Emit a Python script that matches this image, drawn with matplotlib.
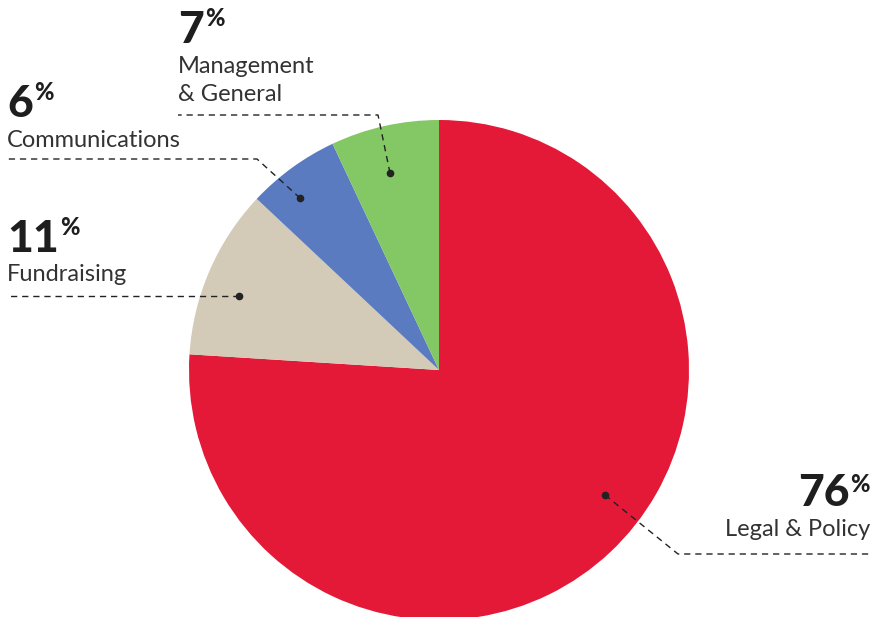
import matplotlib
matplotlib.use("Agg")
import matplotlib.pyplot as plt

categories = ["Legal & Policy", "Fundraising", "Communications", "Management\n& General"]
values = [76, 11, 6, 7]
colors = ["#E31937", "#D3CBB8", "#5A7BC0", "#84C765"]

W, H = 875, 617
fig = plt.figure(figsize=(W / 100, H / 100), dpi=100)
ax = fig.add_axes([0, 0, 1, 1])
ax.set_xlim(0, W)
ax.set_ylim(0, H)
ax.axis("off")

def Y(y):
    return H - y

ax.pie(values, colors=colors, startangle=90, counterclock=False,
       center=(439, Y(370)), radius=250, wedgeprops=dict(linewidth=0))
ax.set_xlim(0, W)
ax.set_ylim(0, H)
ax.set_aspect("equal")

leaders = [
    [(605, 495), (678, 554), (872, 554)],
    [(239, 296), (7, 296)],
    [(300, 198), (257, 159), (7, 159)],
    [(390, 173), (378, 115), (178, 115)],
]
for pts in leaders:
    xs = [p[0] for p in pts]
    ys = [Y(p[1]) for p in pts]
    ax.plot(xs, ys, color="#222222", lw=1.0, dashes=(4.5, 3.5), solid_capstyle="butt")
    ax.plot([xs[0]], [ys[0]], "o", color="#222222", ms=4.5)

label_pos = [
    (870, 506, 536, "right"),
    (7, 252, 281, "left"),
    (7, 117, 147, "left"),
    (178, 43, 73, "left"),
]
num_font = dict(family="Lato", weight="black", fontsize=32, color="#1e1e1e")
pct_font = dict(family="Lato", weight="black", fontsize=17, color="#1e1e1e")
lab_font = dict(family="Lato", weight="normal", fontsize=17, color="#333333")

fig.canvas.draw()
for cat, val, (x, nb, lb, ha) in zip(categories, values, label_pos):
    if ha == "right":
        pct = ax.text(x, Y(nb - 14), "%", ha="right", va="baseline", **pct_font)
        fig.canvas.draw()
        bb = pct.get_window_extent()
        ax.text(bb.x0 - 1, Y(nb), str(val), ha="right", va="baseline", **num_font)
    else:
        num = ax.text(x, Y(nb), str(val), ha="left", va="baseline", **num_font)
        ax.annotate("%", xy=(1, 1), xycoords=num, xytext=(1, 2),
                    textcoords="offset points", ha="left", va="top", **pct_font)
    for i, ln in enumerate(cat.split("\n")):
        ax.text(x, Y(lb + 28 * i), ln, ha=ha, va="baseline", **lab_font)

fig.savefig("out.png", dpi=100)
